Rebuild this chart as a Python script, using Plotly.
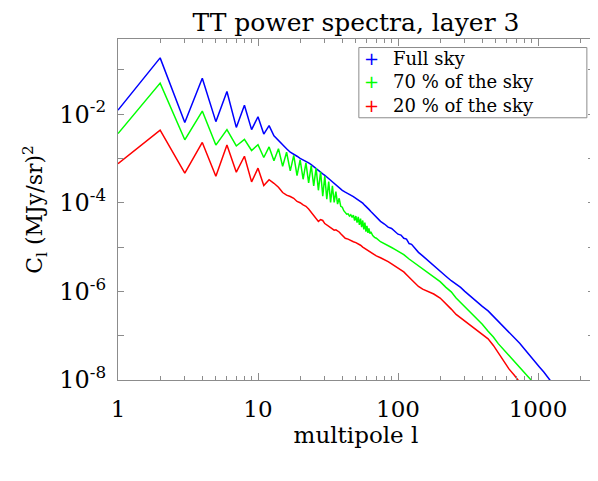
import plotly.graph_objects as go

# multipole values
ell_full = list(range(1, 41)) + [42, 44, 46, 48, 50, 52, 54, 56, 58, 60, 62, 64, 66, 68, 70,
                                 75, 80, 85, 90, 95, 100, 105, 110, 115, 120, 125, 130, 140, 150,
                                 165, 180, 200, 220, 240, 260, 280, 300, 330, 360, 400, 440, 480,
                                 520, 570, 620, 680, 740, 800, 870, 940, 1020, 1100, 1200, 1250]
cl_full = [1.23e-02, 1.86e-01, 6.46e-03, 6.46e-02, 6.76e-03, 3.24e-02, 5.01e-03, 1.58e-02,
           4.47e-03, 8.71e-03, 3.55e-03, 5.50e-03, 3.24e-03, 2.51e-03, 2.09e-03, 1.66e-03,
           1.38e-03, 1.26e-03, 1.12e-03, 1.00e-03, 9.33e-04, 8.71e-04, 7.94e-04, 7.24e-04,
           6.46e-04, 5.89e-04, 5.25e-04, 4.90e-04, 4.47e-04, 4.17e-04, 3.80e-04, 3.55e-04,
           3.24e-04, 2.95e-04, 2.69e-04, 2.51e-04, 2.34e-04, 2.19e-04, 2.00e-04, 1.91e-04,
           1.74e-04, 1.62e-04, 1.45e-04, 1.38e-04, 1.26e-04, 1.17e-04, 1.05e-04, 9.77e-05,
           8.71e-05, 7.94e-05, 7.08e-05, 6.31e-05, 5.75e-05, 5.13e-05, 4.68e-05,
           3.80e-05, 3.31e-05, 2.82e-05, 2.63e-05, 2.24e-05, 1.95e-05, 1.86e-05, 1.58e-05,
           1.51e-05, 1.20e-05, 1.15e-05, 1.00e-05, 7.59e-06, 6.31e-06,
           4.79e-06, 3.80e-06, 2.82e-06, 2.19e-06, 1.74e-06, 1.45e-06, 1.23e-06, 1.00e-06,
           7.59e-07, 6.17e-07, 4.57e-07, 3.63e-07, 2.75e-07, 2.14e-07, 1.62e-07, 1.23e-07,
           9.33e-08, 6.76e-08, 5.01e-08, 3.72e-08, 2.69e-08, 2.00e-08, 1.51e-08, 1.07e-08,
           8.91e-09]

ell_70 = list(range(1, 65)) + [66, 68, 70, 75, 80, 85, 90, 95, 100, 110, 120, 130, 140, 150,
                               165, 180, 200, 220, 240, 260, 280, 300, 330, 360, 400, 440, 480,
                               520, 570, 620, 680, 740, 800, 870, 940]
cl_70 = [3.63e-03, 5.01e-02, 2.63e-03, 1.17e-02, 2.00e-03, 4.47e-03, 1.91e-03, 2.69e-03,
         1.51e-03, 2.04e-03, 1.05e-03, 1.82e-03, 8.91e-04, 1.66e-03, 6.61e-04, 1.38e-03,
         5.25e-04, 1.17e-03, 4.07e-04, 9.33e-04, 3.39e-04, 7.94e-04, 2.82e-04, 6.92e-04,
         2.40e-04, 6.03e-04, 1.91e-04, 5.01e-04, 1.41e-04, 3.98e-04, 1.20e-04, 3.02e-04,
         1.02e-04, 2.40e-04, 1.02e-04, 1.78e-04, 9.33e-05, 1.26e-04, 8.32e-05, 7.94e-05,
         6.61e-05, 6.03e-05, 5.50e-05, 5.62e-05, 5.01e-05, 5.37e-05, 4.68e-05, 5.25e-05,
         3.98e-05, 5.01e-05, 3.55e-05, 4.79e-05, 3.16e-05, 4.37e-05, 2.82e-05, 3.98e-05,
         2.51e-05, 3.55e-05, 2.24e-05, 3.02e-05, 2.09e-05, 2.63e-05, 2.00e-05, 2.19e-05,
         1.82e-05, 1.66e-05, 1.58e-05, 1.32e-05, 1.20e-05, 1.10e-05, 9.77e-06, 8.91e-06,
         8.13e-06, 6.76e-06, 5.37e-06, 4.47e-06, 3.80e-06, 3.16e-06, 2.51e-06, 2.09e-06,
         1.66e-06, 1.23e-06, 9.77e-07, 7.08e-07, 5.62e-07, 4.68e-07, 3.39e-07, 2.63e-07,
         1.82e-07, 1.26e-07, 9.33e-08, 6.61e-08, 4.79e-08, 3.55e-08, 2.57e-08, 1.99e-08,
         1.51e-08, 1.12e-08, 8.32e-09]

ell_20 = list(range(1, 41)) + [42, 44, 46, 48, 50, 52, 54, 56, 58, 60, 62, 64, 66, 68, 70,
                               75, 80, 85, 90, 95, 100, 110, 120, 130, 140, 150, 165, 180, 200,
                               220, 240, 260, 280, 300, 330, 360, 400, 440, 480, 520, 570, 620,
                               680, 740]
cl_20 = [7.59e-04, 4.37e-03, 4.68e-04, 2.29e-03, 3.98e-04, 2.00e-03, 4.90e-04, 1.12e-03,
         2.95e-04, 6.03e-04, 2.45e-04, 3.31e-04, 2.75e-04, 2.24e-04, 1.70e-04, 1.48e-04,
         1.38e-04, 1.26e-04, 1.07e-04, 1.00e-04, 8.91e-05, 8.32e-05, 7.24e-05, 6.03e-05,
         5.25e-05, 4.37e-05, 3.80e-05, 4.17e-05, 3.98e-05, 3.39e-05, 3.16e-05, 2.82e-05,
         2.69e-05, 2.51e-05, 2.40e-05, 2.45e-05, 2.34e-05, 2.19e-05, 2.00e-05, 1.82e-05,
         1.58e-05, 1.51e-05, 1.38e-05, 1.32e-05, 1.26e-05, 1.20e-05, 1.10e-05, 1.00e-05,
         9.33e-06, 8.71e-06, 8.13e-06, 7.59e-06, 7.08e-06, 6.61e-06, 6.31e-06,
         5.75e-06, 5.25e-06, 4.68e-06, 4.17e-06, 3.72e-06, 3.31e-06, 2.75e-06, 2.09e-06,
         1.66e-06, 1.29e-06, 1.12e-06, 9.77e-07, 8.71e-07, 7.08e-07,
         5.37e-07, 3.98e-07, 3.02e-07, 2.51e-07, 2.19e-07, 1.74e-07, 1.38e-07, 1.07e-07,
         8.51e-08, 6.03e-08, 4.17e-08, 2.63e-08, 1.78e-08, 1.26e-08, 8.91e-09]

labels = ['Full sky', '70 % of the sky', '20 % of the sky']
colors = ['#0000ff', '#00ff00', '#ff0000']

font = 'DejaVu Serif'
axis_grey = '#8c8c8c'
fig = go.Figure()

for ell, cl, col, name in zip([ell_full, ell_70, ell_20], [cl_full, cl_70, cl_20], colors, labels):
    fig.add_trace(go.Scatter(x=ell, y=cl, mode='lines', name=name,
                             line=dict(color=col, width=1.5), showlegend=False))

# IDL-style legend: box with "+" symbols, built from a shape and two multi-line annotations
fig.add_shape(type='rect', xref='paper', yref='paper', x0=0.506, x1=0.985, y0=0.769, y1=0.975,
              line=dict(color=axis_grey, width=1), fillcolor='white', layer='above')
plus_text = '<br>'.join(f"<span style='color:{c}'>+</span>" for c in colors)
fig.add_annotation(x=0.5325, y=0.873, xref='paper', yref='paper', text=plus_text,
                   showarrow=False, xanchor='center', yanchor='middle', align='center',
                   font=dict(family='DejaVu Sans', size=18))
fig.add_annotation(x=0.574, y=0.873, xref='paper', yref='paper', text='<br>'.join(labels),
                   showarrow=False, xanchor='left', yanchor='middle', align='left',
                   font=dict(family=font, size=18, color='black'))

ytick_vals = [1e-8, 1e-7, 1e-6, 1e-5, 1e-4, 1e-3, 1e-2, 1e-1]
ytick_text = ['10<sup>-8</sup>', '', '10<sup>-6</sup>', '', '10<sup>-4</sup>', '',
              '10<sup>-2</sup>', '']

fig.update_layout(
    width=598, height=481,
    margin=dict(l=110, r=12, t=31, b=109),
    paper_bgcolor='white', plot_bgcolor='white',
    showlegend=False,
    font=dict(family=font, color='black', size=23),
    title=dict(text='TT power spectra, layer 3', x=0.5, xref='paper',
               y=1 - 14 / 481, yref='container', yanchor='middle',
               font=dict(family=font, size=25)),
    xaxis=dict(type='log', range=[0, 3.4], tickvals=[1, 10, 100, 1000],
               ticktext=['1', '10', '100', '1000'],
               ticks='inside', ticklen=7, tickcolor=axis_grey, showgrid=False,
               showline=True, linecolor=axis_grey, linewidth=1, mirror='ticks',
               ticklabelstandoff=8, tickfont=dict(size=23),
               minor=dict(ticks='inside', ticklen=4, tickcolor=axis_grey, dtick='D1',
                          showgrid=False),
               title=dict(text='multipole l', font=dict(size=23), standoff=0)),
    yaxis=dict(type='log', range=[-8, -0.305], tickvals=ytick_vals, ticktext=ytick_text,
               ticks='inside', ticklen=6, tickcolor=axis_grey, showgrid=False,
               showline=True, linecolor=axis_grey, linewidth=1, mirror='ticks',
               ticklabelstandoff=6, tickfont=dict(size=24),
               title=dict(text='C<sub>l</sub> (MJy/sr)<sup>2</sup>', font=dict(size=22),
                          standoff=10)),
)

fig.write_html('out.html')
